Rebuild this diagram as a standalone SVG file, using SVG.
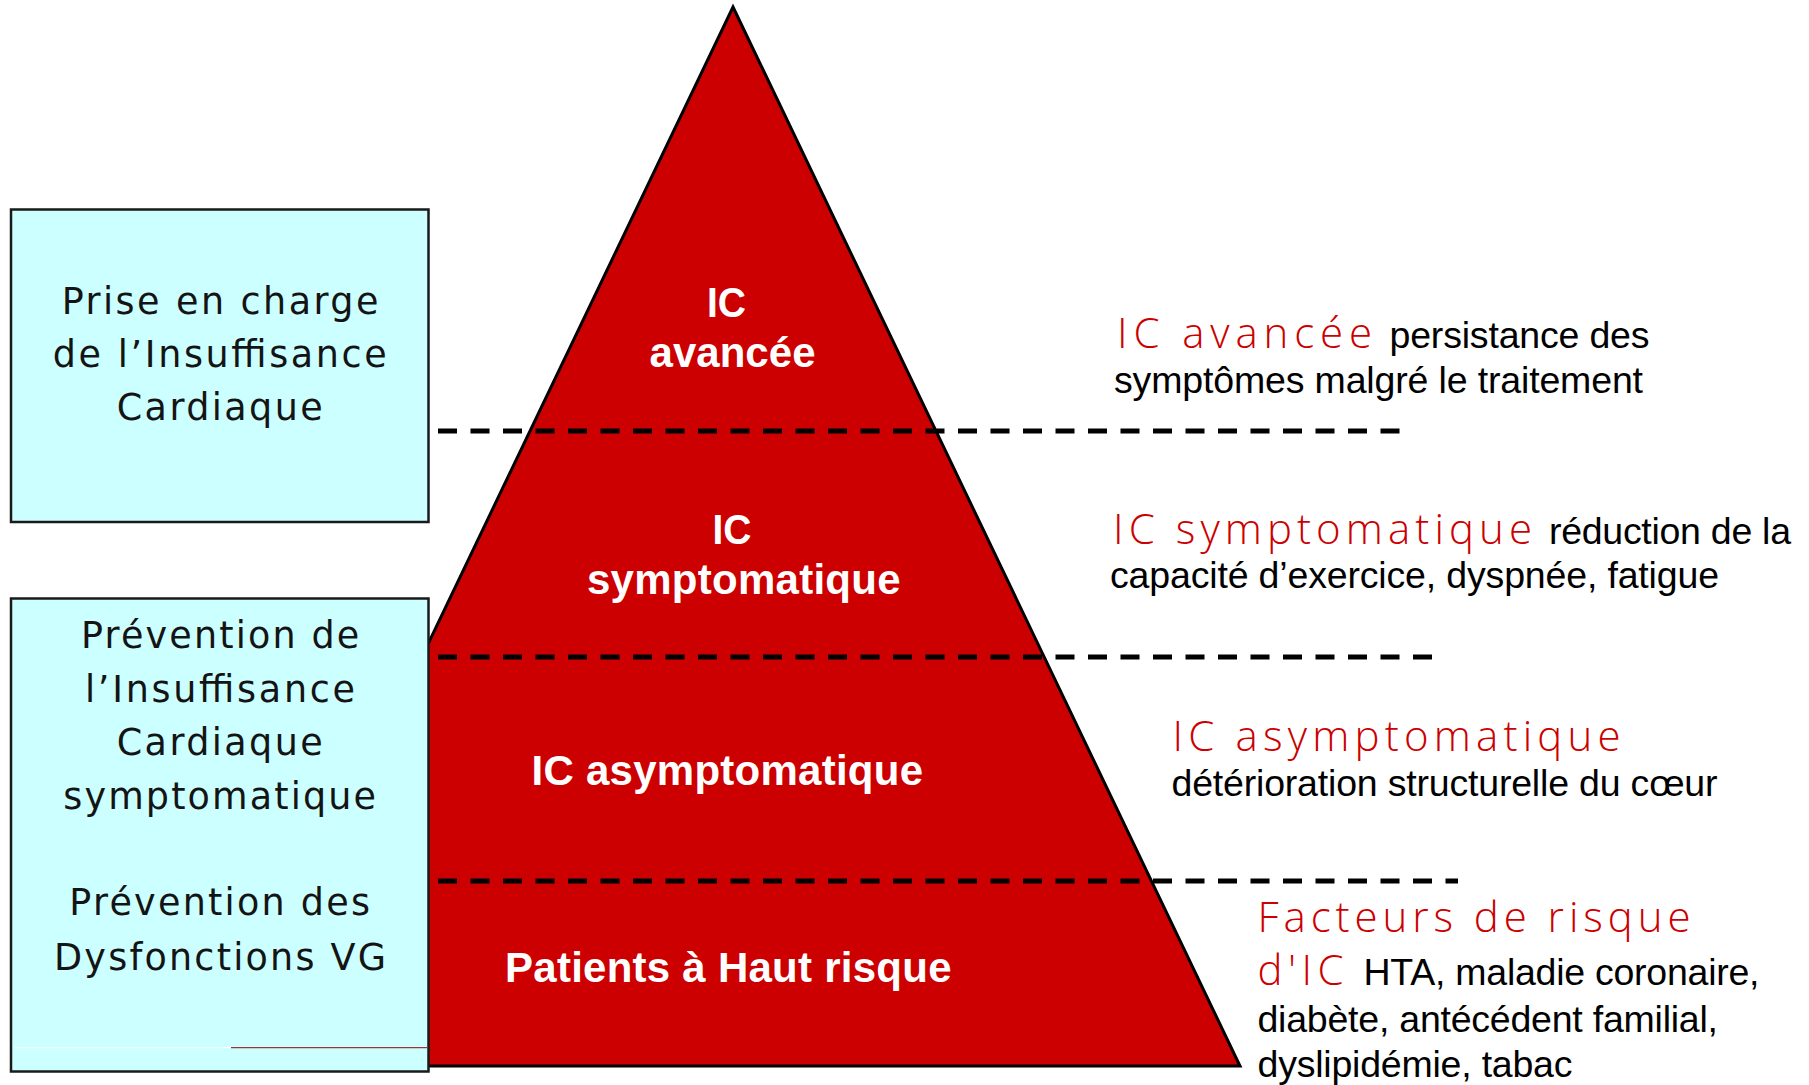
<svg xmlns="http://www.w3.org/2000/svg" width="1809" height="1085" viewBox="0 0 1809 1085">
  <style>
    text { font-family: "Liberation Sans", Arial, Helvetica, sans-serif; }
    .box { fill: #CCFFFF; stroke: #1a1a1a; stroke-width: 2.5; }
    .boxtxt { font-family: "DejaVu Sans", Verdana, sans-serif; font-size: 36.5px; fill: #141414; }
    .pyr { fill: #CC0000; stroke: #000; stroke-width: 3; stroke-linejoin: miter; }
    .lvl { font-size: 42px; font-weight: bold; fill: #ffffff; }
    .head { font-family: "Open Sans", Roboto, "Liberation Sans", sans-serif; font-weight: 300; font-size: 42px; fill: #CC0000; }
    .desc { font-size: 37.5px; fill: #000; }
    .dash { fill: none; stroke: #000; stroke-width: 5; stroke-dasharray: 19 13.5; }
  </style>

  <!-- pyramid of heart-failure stages -->
  <g id="pyramid">
    <polygon class="pyr" points="733,7 1240,1066 226,1066"/>
  </g>

  <!-- stage separators -->
  <g id="connectors">
    <line class="dash" x1="438" y1="431" x2="1405" y2="431"/>
    <line class="dash" x1="438" y1="657" x2="1437" y2="657"/>
    <line class="dash" x1="438" y1="881" x2="1458" y2="881"/>
  </g>

  <!-- stage labels inside the pyramid -->
  <g id="stage-advanced">
    <text class="lvl" x="707" y="317" textLength="39" lengthAdjust="spacingAndGlyphs">IC</text>
    <text class="lvl" x="649.5" y="367" textLength="166" lengthAdjust="spacing">avancée</text>
  </g>
  <g id="stage-symptomatic">
    <text class="lvl" x="712.5" y="544" textLength="39" lengthAdjust="spacingAndGlyphs">IC</text>
    <text class="lvl" x="587" y="593.5" textLength="313.5" lengthAdjust="spacing">symptomatique</text>
  </g>
  <g id="stage-asymptomatic">
    <text class="lvl" x="531.5" y="785" textLength="391.5" lengthAdjust="spacing">IC asymptomatique</text>
  </g>
  <g id="stage-high-risk">
    <text class="lvl" x="505" y="981.5" textLength="446.5" lengthAdjust="spacing">Patients à Haut risque</text>
  </g>

  <!-- care boxes on the left -->
  <g id="box-management">
    <rect class="box" x="11" y="209.5" width="417.5" height="312.5"/>
    <text class="boxtxt" x="61.7" y="314" textLength="316.7" lengthAdjust="spacing">Prise en charge</text>
    <text class="boxtxt" x="52.7" y="367" textLength="334" lengthAdjust="spacing">de l’Insuffisance</text>
    <text class="boxtxt" x="116.7" y="420" textLength="206" lengthAdjust="spacing">Cardiaque</text>
  </g>
  <g id="box-prevention">
    <rect class="box" x="11" y="598.5" width="417.5" height="473"/>
    <line x1="15" y1="1047.7" x2="231" y2="1047.7" stroke="#ffffff" stroke-width="1"/>
    <line x1="231" y1="1047.7" x2="427" y2="1047.7" stroke="#990000" stroke-width="1"/>
    <text class="boxtxt" x="81" y="648.3" textLength="278.3" lengthAdjust="spacing">Prévention de</text>
    <text class="boxtxt" x="85" y="701.7" textLength="270" lengthAdjust="spacing">l’Insuffisance</text>
    <text class="boxtxt" x="116.7" y="755" textLength="206" lengthAdjust="spacing">Cardiaque</text>
    <text class="boxtxt" x="63.3" y="809.3" textLength="312.7" lengthAdjust="spacing">symptomatique</text>
    <text class="boxtxt" x="69.3" y="915" textLength="300.7" lengthAdjust="spacing">Prévention des</text>
    <text class="boxtxt" x="54" y="970" textLength="332" lengthAdjust="spacing">Dysfonctions VG</text>
  </g>

  <!-- stage descriptions on the right -->
  <g id="desc-advanced">
    <text class="head" x="1117" y="348" textLength="255" lengthAdjust="spacing">IC avancée</text>
    <text class="desc" x="1389.5" y="348" textLength="260" lengthAdjust="spacing">persistance des</text>
    <text class="desc" x="1114" y="393.3" textLength="529" lengthAdjust="spacing">symptômes malgré le traitement</text>
  </g>
  <g id="desc-symptomatic">
    <text class="head" x="1113" y="543.5" textLength="419" lengthAdjust="spacing">IC symptomatique</text>
    <text class="desc" x="1549" y="543.5" textLength="242" lengthAdjust="spacing">réduction de la</text>
    <text class="desc" x="1110" y="588.3" textLength="609" lengthAdjust="spacing">capacité d’exercice, dyspnée, fatigue</text>
  </g>
  <g id="desc-asymptomatic">
    <text class="head" x="1172.5" y="750.5" textLength="448" lengthAdjust="spacing">IC asymptomatique</text>
    <text class="desc" x="1171.5" y="796" textLength="546" lengthAdjust="spacing">détérioration structurelle du cœur</text>
  </g>
  <g id="desc-risk-factors">
    <text class="head" x="1257.5" y="932" textLength="433" lengthAdjust="spacing">Facteurs de risque</text>
    <text class="head" x="1257.5" y="985" textLength="86" lengthAdjust="spacing">d'IC</text>
    <text class="desc" x="1363.5" y="985" textLength="396" lengthAdjust="spacing">HTA, maladie coronaire,</text>
    <text class="desc" x="1257.5" y="1031.5" textLength="460.5" lengthAdjust="spacing">diabète, antécédent familial,</text>
    <text class="desc" x="1257.5" y="1076.5" textLength="315" lengthAdjust="spacing">dyslipidémie, tabac</text>
  </g>
</svg>
